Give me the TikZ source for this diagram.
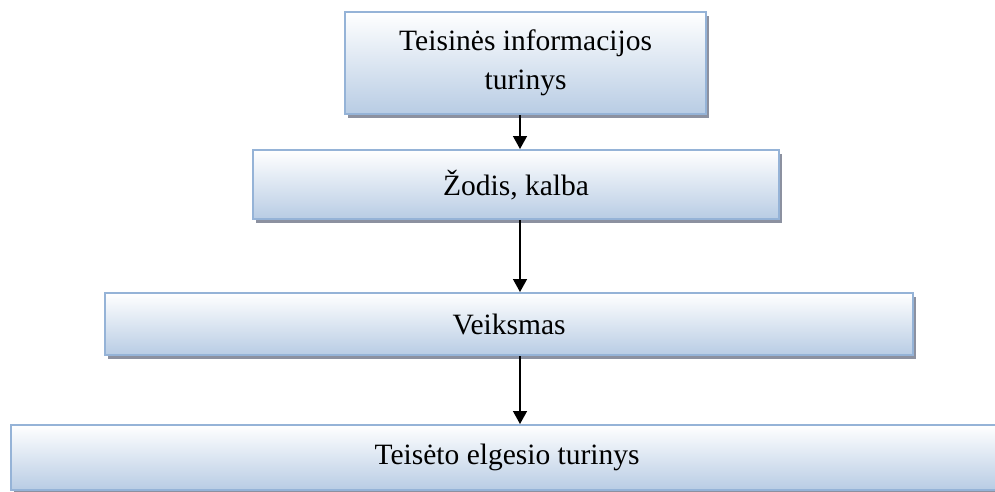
\documentclass[tikz,border=0pt]{standalone}
\usepackage{fontspec}
\setmainfont{Liberation Serif}
\usetikzlibrary{shadows,arrows.meta}
\definecolor{bordc}{RGB}{149,179,215}
\definecolor{botc}{RGB}{184,204,228}
\definecolor{shadc}{RGB}{140,145,160}
\tikzset{
  stepbox/.style={rectangle, draw=bordc, line width=2.2pt, inner sep=0pt,
    top color=white, bottom color=botc, anchor=north west,
    font=\fontsize{29.5}{39}\selectfont, align=center,
    drop shadow={shadow xshift=3pt, shadow yshift=-3.5pt, fill=shadc, opacity=1}},
  flowarrow/.style={line width=1.4pt, -{Triangle[width=14pt,length=13pt]}}
}
\begin{document}
\begin{tikzpicture}[x=1pt,y=-1pt]
\useasboundingbox (0,0) rectangle (995,491);
\node[stepbox, minimum width=361pt, minimum height=102pt] (b1) at (344,11) {Teisinės informacijos\\turinys};
\node[stepbox, minimum width=526pt, minimum height=69pt] (b2) at (252,149) {Žodis, kalba};
\node[stepbox, minimum width=808pt, minimum height=62pt] (b3) at (104,292) {Veiksmas};
\node[stepbox, minimum width=992pt, minimum height=65pt] (b4) at (10,424) {Teisėto elgesio turinys};
\coordinate (ax) at (520,0);
\draw[flowarrow] (b1.south -| ax) -- (b2.north -| ax);
\draw[flowarrow] (b2.south -| ax) -- (b3.north -| ax);
\draw[flowarrow] (b3.south -| ax) -- (b4.north -| ax);
\end{tikzpicture}
\end{document}
